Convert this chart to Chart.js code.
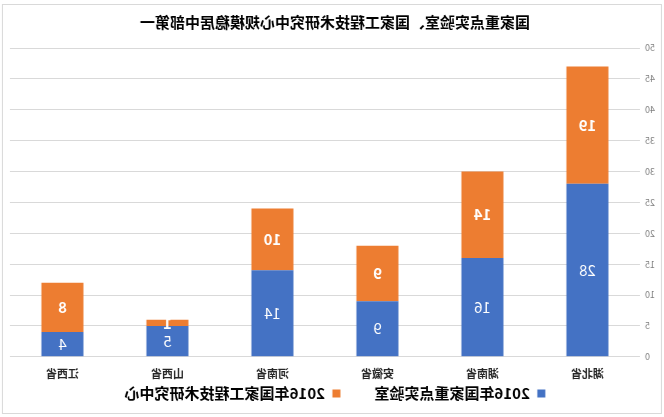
<!DOCTYPE html>
<html>
<head>
<meta charset="utf-8">
<script src="https://cdn.jsdelivr.net/npm/chart.js@4"></script>
<style>
  html, body { margin: 0; padding: 0; background: #fff; }
  /* the reference picture is a mirror image, so flip the whole chart */
  #wrap { width: 664px; height: 417px; transform: scaleX(-1); }
</style>
</head>
<body>
<div id="wrap"><canvas id="chart" width="664" height="417"></canvas></div>
<script>
const TITLE = "国家重点实验室、国家工程技术研究中心规模稳居中部第一";
const provinces = ["湖北省", "湖南省", "安徽省", "河南省", "山西省", "江西省"];
const labLabel = "2016年国家重点实验室";
const centerLabel = "2016年国家工程技术研究中心";
const labs = [28, 16, 9, 14, 5, 4];
const centers = [19, 14, 9, 10, 1, 8];
const yTicks = { min: 0, max: 50, step: 5 };

const CJK = '"Noto Sans CJK SC", "Microsoft YaHei", sans-serif';

// light frame round the whole picture
const framePlugin = {
  id: "frame",
  beforeDraw(chart) {
    const ctx = chart.ctx;
    ctx.save();
    ctx.fillStyle = "#fff";
    ctx.fillRect(0, 0, chart.width, chart.height);
    ctx.strokeStyle = "#d9d9d9";
    ctx.lineWidth = 1;
    ctx.strokeRect(2.5, 4.5, 659, 409);
    ctx.restore();
  }
};

// white value labels in the middle of each bar piece
const valuePlugin = {
  id: "values",
  afterDatasetsDraw(chart) {
    const ctx = chart.ctx;
    ctx.save();
    ctx.fillStyle = "#fff";
    ctx.textAlign = "center";
    ctx.textBaseline = "middle";
    chart.data.datasets.forEach((ds, i) => {
      const meta = chart.getDatasetMeta(i);
      ctx.font = (i === 1 ? "bold " : "") + "15px " + CJK;
      meta.data.forEach((bar, j) => {
        ctx.fillText(String(ds.data[j]), bar.x, (bar.y + bar.base) / 2);
      });
    });
    ctx.restore();
  }
};

new Chart(document.getElementById("chart"), {
  type: "bar",
  data: {
    labels: provinces,
    datasets: [
      { label: labLabel, data: labs, backgroundColor: "#4472c4" },
      { label: centerLabel, data: centers, backgroundColor: "#ed7d31" }
    ]
  },
  options: {
    responsive: false,
    animation: false,
    devicePixelRatio: 1,
    layout: { padding: { left: 4, right: 10, top: 0, bottom: 6 } },
    datasets: { bar: { categoryPercentage: 0.8, barPercentage: 0.5 } },
    scales: {
      x: {
        stacked: true,
        grid: { display: false },
        border: { display: false },
        ticks: { color: "#262626", font: { family: CJK, size: 11, weight: "bold" }, padding: 2 }
      },
      y: {
        stacked: true,
        min: yTicks.min,
        max: yTicks.max,
        afterFit(scale) { scale.width = 20; },
        grid: { color: "#d9d9d9", drawTicks: false },
        border: { display: false },
        ticks: { stepSize: yTicks.step, color: "#7f7f7f", font: { family: CJK, size: 9 }, padding: 5 }
      }
    },
    plugins: {
      title: {
        display: true,
        text: TITLE,
        color: "#000",
        font: { family: CJK, size: 15, weight: "bold" },
        padding: { top: 13, bottom: 17 }
      },
      legend: {
        position: "bottom",
        labels: {
          color: "#000",
          boxWidth: 8,
          boxHeight: 8,
          padding: 4,
          font: { family: CJK, size: 15, weight: "bold" },
          // extra room after the first entry, as in the original legend
          generateLabels(chart) {
            const items = Chart.defaults.plugins.legend.labels.generateLabels(chart);
            items[0].text += "\u3000\u3000";
            return items;
          }
        }
      },
      tooltip: { enabled: false }
    }
  },
  plugins: [framePlugin, valuePlugin]
});
</script>
</body>
</html>
